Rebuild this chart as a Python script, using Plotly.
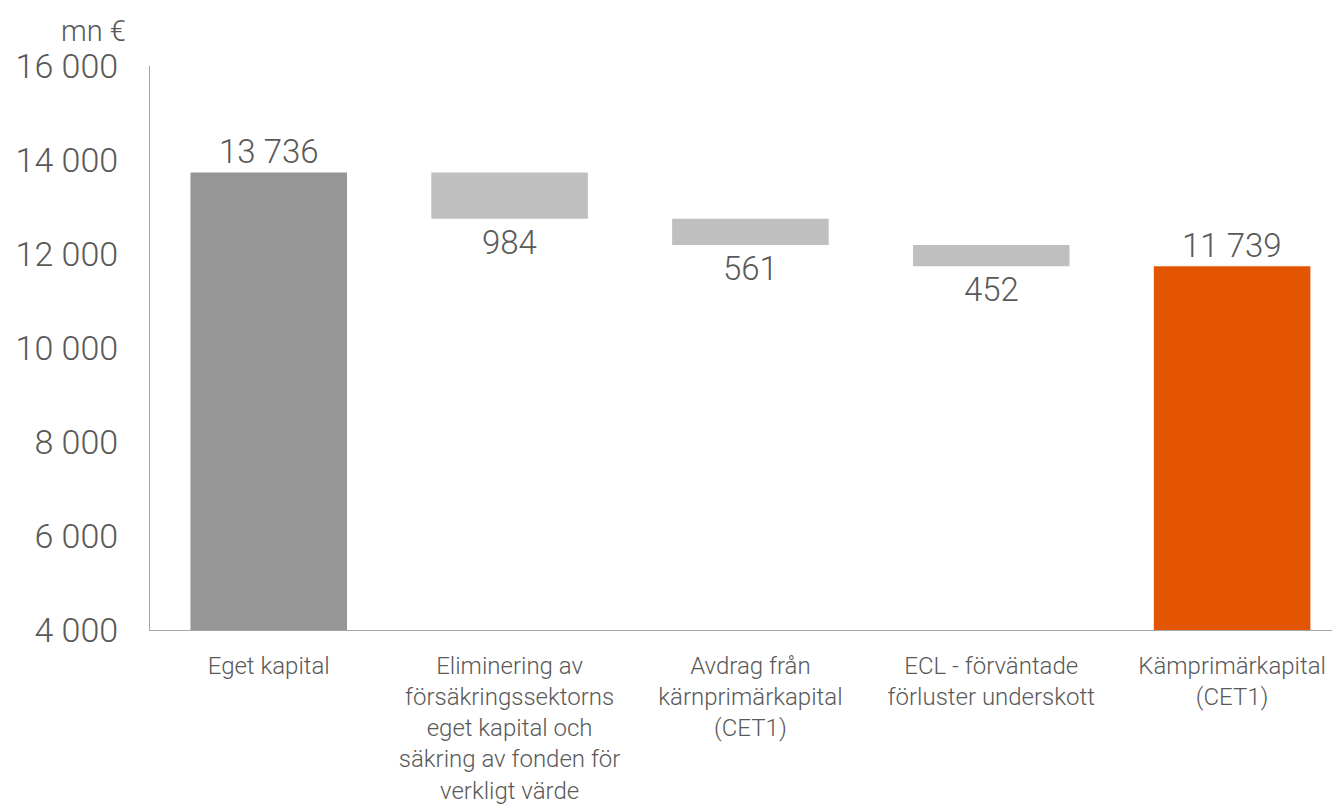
import plotly.graph_objects as go

categories = [
    "Eget kapital",
    "Eliminering av<br>försäkringssektorns<br>eget kapital och<br>säkring av fonden för<br>verkligt värde",
    "Avdrag från<br>kärnprimärkapital<br>(CET1)",
    "ECL - förväntade<br>förluster underskott",
    "Kämprimärkapital<br>(CET1)",
]
values = [13736, -984, -561, -452, 11739]
kinds = ["absolute", "relative", "relative", "relative", "total"]
tick_vals = [4000, 6000, 8000, 10000, 12000, 14000, 16000]
tick_text = ["4 000", "6 000", "8 000", "10 000", "12 000", "14 000", "16 000"]

colors = {"absolute": "#969696", "relative": "#BFBFBF", "total": "#E35500"}
FONT = "Roboto"
TXT = "#595959"
W = 300

fig = go.Figure()
running = 0
bases, heights, cols, labels = [], [], [], []
for v, k in zip(values, kinds):
    if k == "absolute" or k == "total":
        bases.append(0)
        heights.append(v)
        running = v
    else:
        new = running + v
        bases.append(min(running, new))
        heights.append(abs(v))
        running = new
    cols.append(colors[k])
    labels.append(f"{abs(v):,}".replace(",", " "))

fig.add_trace(go.Bar(
    x=categories, y=heights, base=bases, marker_color=cols, width=0.65,
    marker_line_width=0, hoverinfo="skip",
))

for c, b, h, k, lab in zip(categories, bases, heights, kinds, labels):
    if k == "relative":
        fig.add_annotation(x=c, y=b, text=lab, showarrow=False, yanchor="top",
                           yshift=-2, font=dict(family=FONT, size=33, color=TXT, weight=W))
    else:
        fig.add_annotation(x=c, y=b + h, text=lab, showarrow=False, yanchor="bottom",
                           yshift=-1, font=dict(family=FONT, size=33, color=TXT, weight=W))

fig.add_annotation(xref="paper", yref="paper", x=-0.019, y=1.0, yshift=17,
                   xanchor="right", yanchor="bottom", text="mn €", showarrow=False,
                   borderpad=0,
                   font=dict(family=FONT, size=29, color=TXT, weight=W))

fig.update_layout(
    width=1340, height=809,
    margin=dict(l=140, r=8, t=58, b=187),
    paper_bgcolor="white", plot_bgcolor="white",
    showlegend=False,
    font=dict(family=FONT, color=TXT),
)
fig.update_yaxes(range=[4000, 16000], tickvals=tick_vals, ticktext=tick_text,
                 showgrid=False, zeroline=False, showline=True, linecolor="#A6A6A6",
                 linewidth=1, ticks="", ticklabelstandoff=24,
                 tickfont=dict(family=FONT, size=34, color=TXT, weight=W))
fig.update_xaxes(range=[-0.493, 4.448], showgrid=False, showline=True,
                 linecolor="#A6A6A6", linewidth=1, ticks="", ticklabelstandoff=14,
                 tickfont=dict(family=FONT, size=24, color=TXT, weight=W))

fig.write_html("out.html")
